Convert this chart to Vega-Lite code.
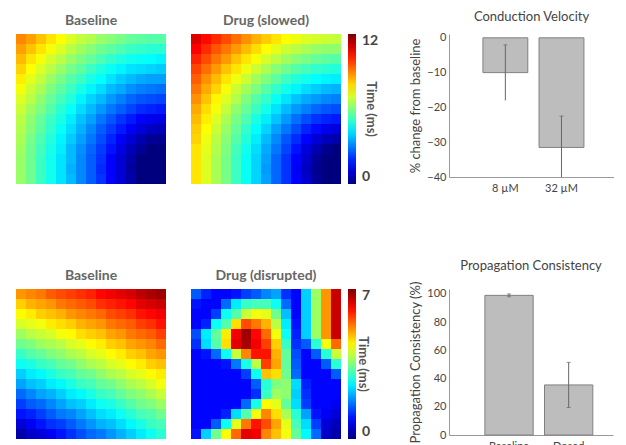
{
"$schema":"https://vega.github.io/schema/vega-lite/v6.json",
"padding":{"left":16,"top":10,"right":0,"bottom":0},
"background":"white",
"config":{"view":{"stroke":null},"font":"Lato","title":{"fontSize":14,"fontWeight":"bold","color":"#666666","offset":6,"font":"Lato"}},
"datasets":{
"a1":[
{"i":0,"j":0,"t":8.9},{"i":1,"j":0,"t":8.6},{"i":2,"j":0,"t":8.2},{"i":3,"j":0,"t":7.8},{"i":4,"j":0,"t":7.5},{"i":5,"j":0,"t":7.1},{"i":6,"j":0,"t":6.8},{"i":7,"j":0,"t":6.6},{"i":8,"j":0,"t":6.3},{"i":9,"j":0,"t":6.1},{"i":10,"j":0,"t":5.9},{"i":11,"j":0,"t":5.7},{"i":12,"j":0,"t":5.6},{"i":13,"j":0,"t":5.5},{"i":14,"j":0,"t":5.5},
{"i":0,"j":1,"t":8.6},{"i":1,"j":1,"t":8.2},{"i":2,"j":1,"t":7.8},{"i":3,"j":1,"t":7.4},{"i":4,"j":1,"t":7.1},{"i":5,"j":1,"t":6.7},{"i":6,"j":1,"t":6.4},{"i":7,"j":1,"t":6.1},{"i":8,"j":1,"t":5.8},{"i":9,"j":1,"t":5.6},{"i":10,"j":1,"t":5.4},{"i":11,"j":1,"t":5.2},{"i":12,"j":1,"t":5.1},{"i":13,"j":1,"t":5.0},{"i":14,"j":1,"t":5.0},
{"i":0,"j":2,"t":8.3},{"i":1,"j":2,"t":7.8},{"i":2,"j":2,"t":7.4},{"i":3,"j":2,"t":7.0},{"i":4,"j":2,"t":6.7},{"i":5,"j":2,"t":6.3},{"i":6,"j":2,"t":6.0},{"i":7,"j":2,"t":5.7},{"i":8,"j":2,"t":5.4},{"i":9,"j":2,"t":5.1},{"i":10,"j":2,"t":4.9},{"i":11,"j":2,"t":4.7},{"i":12,"j":2,"t":4.6},{"i":13,"j":2,"t":4.5},{"i":14,"j":2,"t":4.4},
{"i":0,"j":3,"t":8.0},{"i":1,"j":3,"t":7.5},{"i":2,"j":3,"t":7.1},{"i":3,"j":3,"t":6.7},{"i":4,"j":3,"t":6.3},{"i":5,"j":3,"t":5.9},{"i":6,"j":3,"t":5.6},{"i":7,"j":3,"t":5.2},{"i":8,"j":3,"t":4.9},{"i":9,"j":3,"t":4.6},{"i":10,"j":3,"t":4.4},{"i":11,"j":3,"t":4.2},{"i":12,"j":3,"t":4.1},{"i":13,"j":3,"t":4.0},{"i":14,"j":3,"t":3.9},
{"i":0,"j":4,"t":7.7},{"i":1,"j":4,"t":7.2},{"i":2,"j":4,"t":6.8},{"i":3,"j":4,"t":6.3},{"i":4,"j":4,"t":5.9},{"i":5,"j":4,"t":5.5},{"i":6,"j":4,"t":5.2},{"i":7,"j":4,"t":4.8},{"i":8,"j":4,"t":4.5},{"i":9,"j":4,"t":4.2},{"i":10,"j":4,"t":3.9},{"i":11,"j":4,"t":3.7},{"i":12,"j":4,"t":3.5},{"i":13,"j":4,"t":3.4},{"i":14,"j":4,"t":3.4},
{"i":0,"j":5,"t":7.4},{"i":1,"j":5,"t":6.9},{"i":2,"j":5,"t":6.5},{"i":3,"j":5,"t":6.0},{"i":4,"j":5,"t":5.6},{"i":5,"j":5,"t":5.2},{"i":6,"j":5,"t":4.8},{"i":7,"j":5,"t":4.4},{"i":8,"j":5,"t":4.1},{"i":9,"j":5,"t":3.7},{"i":10,"j":5,"t":3.5},{"i":11,"j":5,"t":3.2},{"i":12,"j":5,"t":3.0},{"i":13,"j":5,"t":2.9},{"i":14,"j":5,"t":2.8},
{"i":0,"j":6,"t":7.1},{"i":1,"j":6,"t":6.7},{"i":2,"j":6,"t":6.2},{"i":3,"j":6,"t":5.7},{"i":4,"j":6,"t":5.3},{"i":5,"j":6,"t":4.9},{"i":6,"j":6,"t":4.4},{"i":7,"j":6,"t":4.0},{"i":8,"j":6,"t":3.7},{"i":9,"j":6,"t":3.3},{"i":10,"j":6,"t":3.0},{"i":11,"j":6,"t":2.7},{"i":12,"j":6,"t":2.5},{"i":13,"j":6,"t":2.4},{"i":14,"j":6,"t":2.3},
{"i":0,"j":7,"t":6.9},{"i":1,"j":7,"t":6.4},{"i":2,"j":7,"t":6.0},{"i":3,"j":7,"t":5.5},{"i":4,"j":7,"t":5.0},{"i":5,"j":7,"t":4.6},{"i":6,"j":7,"t":4.1},{"i":7,"j":7,"t":3.7},{"i":8,"j":7,"t":3.3},{"i":9,"j":7,"t":2.9},{"i":10,"j":7,"t":2.6},{"i":11,"j":7,"t":2.3},{"i":12,"j":7,"t":2.0},{"i":13,"j":7,"t":1.9},{"i":14,"j":7,"t":1.8},
{"i":0,"j":8,"t":6.7},{"i":1,"j":8,"t":6.2},{"i":2,"j":8,"t":5.7},{"i":3,"j":8,"t":5.2},{"i":4,"j":8,"t":4.8},{"i":5,"j":8,"t":4.3},{"i":6,"j":8,"t":3.8},{"i":7,"j":8,"t":3.4},{"i":8,"j":8,"t":2.9},{"i":9,"j":8,"t":2.5},{"i":10,"j":8,"t":2.1},{"i":11,"j":8,"t":1.8},{"i":12,"j":8,"t":1.5},{"i":13,"j":8,"t":1.3},{"i":14,"j":8,"t":1.2},
{"i":0,"j":9,"t":6.6},{"i":1,"j":9,"t":6.1},{"i":2,"j":9,"t":5.6},{"i":3,"j":9,"t":5.1},{"i":4,"j":9,"t":4.6},{"i":5,"j":9,"t":4.1},{"i":6,"j":9,"t":3.6},{"i":7,"j":9,"t":3.1},{"i":8,"j":9,"t":2.6},{"i":9,"j":9,"t":2.2},{"i":10,"j":9,"t":1.8},{"i":11,"j":9,"t":1.4},{"i":12,"j":9,"t":1.1},{"i":13,"j":9,"t":0.8},{"i":14,"j":9,"t":0.7},
{"i":0,"j":10,"t":6.5},{"i":1,"j":10,"t":5.9},{"i":2,"j":10,"t":5.4},{"i":3,"j":10,"t":4.9},{"i":4,"j":10,"t":4.4},{"i":5,"j":10,"t":3.9},{"i":6,"j":10,"t":3.4},{"i":7,"j":10,"t":2.9},{"i":8,"j":10,"t":2.4},{"i":9,"j":10,"t":1.9},{"i":10,"j":10,"t":1.4},{"i":11,"j":10,"t":1.0},{"i":12,"j":10,"t":0.6},{"i":13,"j":10,"t":0.3},{"i":14,"j":10,"t":0.2},
{"i":0,"j":11,"t":6.4},{"i":1,"j":11,"t":5.8},{"i":2,"j":11,"t":5.3},{"i":3,"j":11,"t":4.8},{"i":4,"j":11,"t":4.3},{"i":5,"j":11,"t":3.7},{"i":6,"j":11,"t":3.2},{"i":7,"j":11,"t":2.7},{"i":8,"j":11,"t":2.2},{"i":9,"j":11,"t":1.7},{"i":10,"j":11,"t":1.2},{"i":11,"j":11,"t":0.7},{"i":12,"j":11,"t":0.3},{"i":13,"j":11,"t":0},{"i":14,"j":11,"t":0},
{"i":0,"j":12,"t":6.3},{"i":1,"j":12,"t":5.8},{"i":2,"j":12,"t":5.2},{"i":3,"j":12,"t":4.7},{"i":4,"j":12,"t":4.2},{"i":5,"j":12,"t":3.7},{"i":6,"j":12,"t":3.1},{"i":7,"j":12,"t":2.6},{"i":8,"j":12,"t":2.1},{"i":9,"j":12,"t":1.5},{"i":10,"j":12,"t":1.0},{"i":11,"j":12,"t":0.5},{"i":12,"j":12,"t":0},{"i":13,"j":12,"t":0},{"i":14,"j":12,"t":0},
{"i":0,"j":13,"t":6.3},{"i":1,"j":13,"t":5.8},{"i":2,"j":13,"t":5.2},{"i":3,"j":13,"t":4.7},{"i":4,"j":13,"t":4.2},{"i":5,"j":13,"t":3.6},{"i":6,"j":13,"t":3.1},{"i":7,"j":13,"t":2.6},{"i":8,"j":13,"t":2.0},{"i":9,"j":13,"t":1.5},{"i":10,"j":13,"t":1.0},{"i":11,"j":13,"t":0.4},{"i":12,"j":13,"t":0},{"i":13,"j":13,"t":0},{"i":14,"j":13,"t":0},
{"i":0,"j":14,"t":6.3},{"i":1,"j":14,"t":5.8},{"i":2,"j":14,"t":5.2},{"i":3,"j":14,"t":4.7},{"i":4,"j":14,"t":4.2},{"i":5,"j":14,"t":3.7},{"i":6,"j":14,"t":3.1},{"i":7,"j":14,"t":2.6},{"i":8,"j":14,"t":2.1},{"i":9,"j":14,"t":1.5},{"i":10,"j":14,"t":1.0},{"i":11,"j":14,"t":0.5},{"i":12,"j":14,"t":0},{"i":13,"j":14,"t":0},{"i":14,"j":14,"t":0}
],
"b1":[
{"i":0,"j":0,"t":10.9},{"i":1,"j":0,"t":10.4},{"i":2,"j":0,"t":10.0},{"i":3,"j":0,"t":9.6},{"i":4,"j":0,"t":9.2},{"i":5,"j":0,"t":8.8},{"i":6,"j":0,"t":8.4},{"i":7,"j":0,"t":8.1},{"i":8,"j":0,"t":7.8},{"i":9,"j":0,"t":7.5},{"i":10,"j":0,"t":7.3},{"i":11,"j":0,"t":7.1},{"i":12,"j":0,"t":7.0},{"i":13,"j":0,"t":6.9},{"i":14,"j":0,"t":6.8},
{"i":0,"j":1,"t":10.5},{"i":1,"j":1,"t":10.0},{"i":2,"j":1,"t":9.5},{"i":3,"j":1,"t":9.1},{"i":4,"j":1,"t":8.7},{"i":5,"j":1,"t":8.3},{"i":6,"j":1,"t":7.9},{"i":7,"j":1,"t":7.5},{"i":8,"j":1,"t":7.2},{"i":9,"j":1,"t":6.9},{"i":10,"j":1,"t":6.7},{"i":11,"j":1,"t":6.5},{"i":12,"j":1,"t":6.3},{"i":13,"j":1,"t":6.2},{"i":14,"j":1,"t":6.2},
{"i":0,"j":2,"t":10.1},{"i":1,"j":2,"t":9.6},{"i":2,"j":2,"t":9.1},{"i":3,"j":2,"t":8.7},{"i":4,"j":2,"t":8.2},{"i":5,"j":2,"t":7.8},{"i":6,"j":2,"t":7.4},{"i":7,"j":2,"t":7.0},{"i":8,"j":2,"t":6.7},{"i":9,"j":2,"t":6.4},{"i":10,"j":2,"t":6.1},{"i":11,"j":2,"t":5.9},{"i":12,"j":2,"t":5.7},{"i":13,"j":2,"t":5.6},{"i":14,"j":2,"t":5.5},
{"i":0,"j":3,"t":9.7},{"i":1,"j":3,"t":9.2},{"i":2,"j":3,"t":8.7},{"i":3,"j":3,"t":8.2},{"i":4,"j":3,"t":7.8},{"i":5,"j":3,"t":7.3},{"i":6,"j":3,"t":6.9},{"i":7,"j":3,"t":6.5},{"i":8,"j":3,"t":6.1},{"i":9,"j":3,"t":5.8},{"i":10,"j":3,"t":5.5},{"i":11,"j":3,"t":5.3},{"i":12,"j":3,"t":5.1},{"i":13,"j":3,"t":5.0},{"i":14,"j":3,"t":4.9},
{"i":0,"j":4,"t":9.4},{"i":1,"j":4,"t":8.8},{"i":2,"j":4,"t":8.3},{"i":3,"j":4,"t":7.8},{"i":4,"j":4,"t":7.3},{"i":5,"j":4,"t":6.9},{"i":6,"j":4,"t":6.4},{"i":7,"j":4,"t":6.0},{"i":8,"j":4,"t":5.6},{"i":9,"j":4,"t":5.2},{"i":10,"j":4,"t":4.9},{"i":11,"j":4,"t":4.7},{"i":12,"j":4,"t":4.5},{"i":13,"j":4,"t":4.4},{"i":14,"j":4,"t":4.3},
{"i":0,"j":5,"t":9.1},{"i":1,"j":5,"t":8.5},{"i":2,"j":5,"t":8.0},{"i":3,"j":5,"t":7.4},{"i":4,"j":5,"t":6.9},{"i":5,"j":5,"t":6.4},{"i":6,"j":5,"t":6.0},{"i":7,"j":5,"t":5.5},{"i":8,"j":5,"t":5.1},{"i":9,"j":5,"t":4.7},{"i":10,"j":5,"t":4.4},{"i":11,"j":5,"t":4.1},{"i":12,"j":5,"t":3.9},{"i":13,"j":5,"t":3.7},{"i":14,"j":5,"t":3.6},
{"i":0,"j":6,"t":8.8},{"i":1,"j":6,"t":8.2},{"i":2,"j":6,"t":7.6},{"i":3,"j":6,"t":7.1},{"i":4,"j":6,"t":6.6},{"i":5,"j":6,"t":6.0},{"i":6,"j":6,"t":5.5},{"i":7,"j":6,"t":5.1},{"i":8,"j":6,"t":4.6},{"i":9,"j":6,"t":4.2},{"i":10,"j":6,"t":3.8},{"i":11,"j":6,"t":3.5},{"i":12,"j":6,"t":3.3},{"i":13,"j":6,"t":3.1},{"i":14,"j":6,"t":3.0},
{"i":0,"j":7,"t":8.5},{"i":1,"j":7,"t":7.9},{"i":2,"j":7,"t":7.4},{"i":3,"j":7,"t":6.8},{"i":4,"j":7,"t":6.2},{"i":5,"j":7,"t":5.7},{"i":6,"j":7,"t":5.2},{"i":7,"j":7,"t":4.7},{"i":8,"j":7,"t":4.2},{"i":9,"j":7,"t":3.7},{"i":10,"j":7,"t":3.3},{"i":11,"j":7,"t":3.0},{"i":12,"j":7,"t":2.7},{"i":13,"j":7,"t":2.5},{"i":14,"j":7,"t":2.4},
{"i":0,"j":8,"t":8.3},{"i":1,"j":8,"t":7.7},{"i":2,"j":8,"t":7.1},{"i":3,"j":8,"t":6.5},{"i":4,"j":8,"t":5.9},{"i":5,"j":8,"t":5.4},{"i":6,"j":8,"t":4.8},{"i":7,"j":8,"t":4.3},{"i":8,"j":8,"t":3.8},{"i":9,"j":8,"t":3.3},{"i":10,"j":8,"t":2.8},{"i":11,"j":8,"t":2.4},{"i":12,"j":8,"t":2.1},{"i":13,"j":8,"t":1.9},{"i":14,"j":8,"t":1.8},
{"i":0,"j":9,"t":8.1},{"i":1,"j":9,"t":7.5},{"i":2,"j":9,"t":6.9},{"i":3,"j":9,"t":6.3},{"i":4,"j":9,"t":5.7},{"i":5,"j":9,"t":5.1},{"i":6,"j":9,"t":4.5},{"i":7,"j":9,"t":4.0},{"i":8,"j":9,"t":3.4},{"i":9,"j":9,"t":2.9},{"i":10,"j":9,"t":2.4},{"i":11,"j":9,"t":1.9},{"i":12,"j":9,"t":1.6},{"i":13,"j":9,"t":1.3},{"i":14,"j":9,"t":1.1},
{"i":0,"j":10,"t":8.0},{"i":1,"j":10,"t":7.3},{"i":2,"j":10,"t":6.7},{"i":3,"j":10,"t":6.1},{"i":4,"j":10,"t":5.5},{"i":5,"j":10,"t":4.9},{"i":6,"j":10,"t":4.3},{"i":7,"j":10,"t":3.7},{"i":8,"j":10,"t":3.1},{"i":9,"j":10,"t":2.5},{"i":10,"j":10,"t":2.0},{"i":11,"j":10,"t":1.5},{"i":12,"j":10,"t":1.0},{"i":13,"j":10,"t":0.7},{"i":14,"j":10,"t":0.5},
{"i":0,"j":11,"t":7.8},{"i":1,"j":11,"t":7.2},{"i":2,"j":11,"t":6.6},{"i":3,"j":11,"t":6.0},{"i":4,"j":11,"t":5.3},{"i":5,"j":11,"t":4.7},{"i":6,"j":11,"t":4.1},{"i":7,"j":11,"t":3.5},{"i":8,"j":11,"t":2.9},{"i":9,"j":11,"t":2.3},{"i":10,"j":11,"t":1.7},{"i":11,"j":11,"t":1.1},{"i":12,"j":11,"t":0.6},{"i":13,"j":11,"t":0.2},{"i":14,"j":11,"t":0},
{"i":0,"j":12,"t":7.8},{"i":1,"j":12,"t":7.1},{"i":2,"j":12,"t":6.5},{"i":3,"j":12,"t":5.9},{"i":4,"j":12,"t":5.2},{"i":5,"j":12,"t":4.6},{"i":6,"j":12,"t":4.0},{"i":7,"j":12,"t":3.4},{"i":8,"j":12,"t":2.7},{"i":9,"j":12,"t":2.1},{"i":10,"j":12,"t":1.5},{"i":11,"j":12,"t":0.9},{"i":12,"j":12,"t":0.3},{"i":13,"j":12,"t":0},{"i":14,"j":12,"t":0},
{"i":0,"j":13,"t":7.8},{"i":1,"j":13,"t":7.1},{"i":2,"j":13,"t":6.5},{"i":3,"j":13,"t":5.9},{"i":4,"j":13,"t":5.2},{"i":5,"j":13,"t":4.6},{"i":6,"j":13,"t":4.0},{"i":7,"j":13,"t":3.3},{"i":8,"j":13,"t":2.7},{"i":9,"j":13,"t":2.1},{"i":10,"j":13,"t":1.4},{"i":11,"j":13,"t":0.8},{"i":12,"j":13,"t":0.2},{"i":13,"j":13,"t":0},{"i":14,"j":13,"t":0},
{"i":0,"j":14,"t":7.8},{"i":1,"j":14,"t":7.1},{"i":2,"j":14,"t":6.5},{"i":3,"j":14,"t":5.9},{"i":4,"j":14,"t":5.2},{"i":5,"j":14,"t":4.6},{"i":6,"j":14,"t":4.0},{"i":7,"j":14,"t":3.4},{"i":8,"j":14,"t":2.7},{"i":9,"j":14,"t":2.1},{"i":10,"j":14,"t":1.5},{"i":11,"j":14,"t":0.9},{"i":12,"j":14,"t":0.3},{"i":13,"j":14,"t":0},{"i":14,"j":14,"t":0}
],
"a2":[
{"i":0,"j":0,"t":5.1},{"i":1,"j":0,"t":5.2},{"i":2,"j":0,"t":5.3},{"i":3,"j":0,"t":5.5},{"i":4,"j":0,"t":5.6},{"i":5,"j":0,"t":5.7},{"i":6,"j":0,"t":5.8},{"i":7,"j":0,"t":5.9},{"i":8,"j":0,"t":6.1},{"i":9,"j":0,"t":6.2},{"i":10,"j":0,"t":6.3},{"i":11,"j":0,"t":6.4},{"i":12,"j":0,"t":6.6},{"i":13,"j":0,"t":6.7},{"i":14,"j":0,"t":6.8},
{"i":0,"j":1,"t":4.7},{"i":1,"j":1,"t":4.9},{"i":2,"j":1,"t":5.0},{"i":3,"j":1,"t":5.1},{"i":4,"j":1,"t":5.3},{"i":5,"j":1,"t":5.4},{"i":6,"j":1,"t":5.5},{"i":7,"j":1,"t":5.6},{"i":8,"j":1,"t":5.8},{"i":9,"j":1,"t":5.9},{"i":10,"j":1,"t":6.0},{"i":11,"j":1,"t":6.1},{"i":12,"j":1,"t":6.3},{"i":13,"j":1,"t":6.4},{"i":14,"j":1,"t":6.5},
{"i":0,"j":2,"t":4.4},{"i":1,"j":2,"t":4.5},{"i":2,"j":2,"t":4.7},{"i":3,"j":2,"t":4.8},{"i":4,"j":2,"t":4.9},{"i":5,"j":2,"t":5.1},{"i":6,"j":2,"t":5.2},{"i":7,"j":2,"t":5.3},{"i":8,"j":2,"t":5.4},{"i":9,"j":2,"t":5.6},{"i":10,"j":2,"t":5.7},{"i":11,"j":2,"t":5.8},{"i":12,"j":2,"t":6.0},{"i":13,"j":2,"t":6.1},{"i":14,"j":2,"t":6.2},
{"i":0,"j":3,"t":4.1},{"i":1,"j":3,"t":4.2},{"i":2,"j":3,"t":4.3},{"i":3,"j":3,"t":4.5},{"i":4,"j":3,"t":4.6},{"i":5,"j":3,"t":4.7},{"i":6,"j":3,"t":4.9},{"i":7,"j":3,"t":5.0},{"i":8,"j":3,"t":5.1},{"i":9,"j":3,"t":5.3},{"i":10,"j":3,"t":5.4},{"i":11,"j":3,"t":5.5},{"i":12,"j":3,"t":5.7},{"i":13,"j":3,"t":5.8},{"i":14,"j":3,"t":6.0},
{"i":0,"j":4,"t":3.7},{"i":1,"j":4,"t":3.9},{"i":2,"j":4,"t":4.0},{"i":3,"j":4,"t":4.1},{"i":4,"j":4,"t":4.3},{"i":5,"j":4,"t":4.4},{"i":6,"j":4,"t":4.6},{"i":7,"j":4,"t":4.7},{"i":8,"j":4,"t":4.8},{"i":9,"j":4,"t":5.0},{"i":10,"j":4,"t":5.1},{"i":11,"j":4,"t":5.3},{"i":12,"j":4,"t":5.4},{"i":13,"j":4,"t":5.5},{"i":14,"j":4,"t":5.7},
{"i":0,"j":5,"t":3.4},{"i":1,"j":5,"t":3.5},{"i":2,"j":5,"t":3.7},{"i":3,"j":5,"t":3.8},{"i":4,"j":5,"t":3.9},{"i":5,"j":5,"t":4.1},{"i":6,"j":5,"t":4.2},{"i":7,"j":5,"t":4.4},{"i":8,"j":5,"t":4.5},{"i":9,"j":5,"t":4.7},{"i":10,"j":5,"t":4.8},{"i":11,"j":5,"t":5.0},{"i":12,"j":5,"t":5.1},{"i":13,"j":5,"t":5.2},{"i":14,"j":5,"t":5.4},
{"i":0,"j":6,"t":3.0},{"i":1,"j":6,"t":3.2},{"i":2,"j":6,"t":3.3},{"i":3,"j":6,"t":3.5},{"i":4,"j":6,"t":3.6},{"i":5,"j":6,"t":3.8},{"i":6,"j":6,"t":3.9},{"i":7,"j":6,"t":4.1},{"i":8,"j":6,"t":4.2},{"i":9,"j":6,"t":4.4},{"i":10,"j":6,"t":4.5},{"i":11,"j":6,"t":4.7},{"i":12,"j":6,"t":4.8},{"i":13,"j":6,"t":5.0},{"i":14,"j":6,"t":5.1},
{"i":0,"j":7,"t":2.7},{"i":1,"j":7,"t":2.8},{"i":2,"j":7,"t":3.0},{"i":3,"j":7,"t":3.1},{"i":4,"j":7,"t":3.3},{"i":5,"j":7,"t":3.4},{"i":6,"j":7,"t":3.6},{"i":7,"j":7,"t":3.8},{"i":8,"j":7,"t":3.9},{"i":9,"j":7,"t":4.1},{"i":10,"j":7,"t":4.2},{"i":11,"j":7,"t":4.4},{"i":12,"j":7,"t":4.5},{"i":13,"j":7,"t":4.7},{"i":14,"j":7,"t":4.8},
{"i":0,"j":8,"t":2.3},{"i":1,"j":8,"t":2.5},{"i":2,"j":8,"t":2.6},{"i":3,"j":8,"t":2.8},{"i":4,"j":8,"t":3.0},{"i":5,"j":8,"t":3.1},{"i":6,"j":8,"t":3.3},{"i":7,"j":8,"t":3.4},{"i":8,"j":8,"t":3.6},{"i":9,"j":8,"t":3.8},{"i":10,"j":8,"t":3.9},{"i":11,"j":8,"t":4.1},{"i":12,"j":8,"t":4.2},{"i":13,"j":8,"t":4.4},{"i":14,"j":8,"t":4.5},
{"i":0,"j":9,"t":2.0},{"i":1,"j":9,"t":2.2},{"i":2,"j":9,"t":2.3},{"i":3,"j":9,"t":2.5},{"i":4,"j":9,"t":2.6},{"i":5,"j":9,"t":2.8},{"i":6,"j":9,"t":3.0},{"i":7,"j":9,"t":3.1},{"i":8,"j":9,"t":3.3},{"i":9,"j":9,"t":3.4},{"i":10,"j":9,"t":3.6},{"i":11,"j":9,"t":3.8},{"i":12,"j":9,"t":3.9},{"i":13,"j":9,"t":4.1},{"i":14,"j":9,"t":4.3},
{"i":0,"j":10,"t":1.6},{"i":1,"j":10,"t":1.8},{"i":2,"j":10,"t":2.0},{"i":3,"j":10,"t":2.1},{"i":4,"j":10,"t":2.3},{"i":5,"j":10,"t":2.5},{"i":6,"j":10,"t":2.6},{"i":7,"j":10,"t":2.8},{"i":8,"j":10,"t":3.0},{"i":9,"j":10,"t":3.1},{"i":10,"j":10,"t":3.3},{"i":11,"j":10,"t":3.5},{"i":12,"j":10,"t":3.6},{"i":13,"j":10,"t":3.8},{"i":14,"j":10,"t":4.0},
{"i":0,"j":11,"t":1.3},{"i":1,"j":11,"t":1.5},{"i":2,"j":11,"t":1.6},{"i":3,"j":11,"t":1.8},{"i":4,"j":11,"t":2.0},{"i":5,"j":11,"t":2.2},{"i":6,"j":11,"t":2.3},{"i":7,"j":11,"t":2.5},{"i":8,"j":11,"t":2.7},{"i":9,"j":11,"t":2.8},{"i":10,"j":11,"t":3.0},{"i":11,"j":11,"t":3.2},{"i":12,"j":11,"t":3.4},{"i":13,"j":11,"t":3.5},{"i":14,"j":11,"t":3.7},
{"i":0,"j":12,"t":1.0},{"i":1,"j":12,"t":1.1},{"i":2,"j":12,"t":1.3},{"i":3,"j":12,"t":1.5},{"i":4,"j":12,"t":1.7},{"i":5,"j":12,"t":1.8},{"i":6,"j":12,"t":2.0},{"i":7,"j":12,"t":2.2},{"i":8,"j":12,"t":2.4},{"i":9,"j":12,"t":2.5},{"i":10,"j":12,"t":2.7},{"i":11,"j":12,"t":2.9},{"i":12,"j":12,"t":3.1},{"i":13,"j":12,"t":3.2},{"i":14,"j":12,"t":3.4},
{"i":0,"j":13,"t":0.6},{"i":1,"j":13,"t":0.8},{"i":2,"j":13,"t":1.0},{"i":3,"j":13,"t":1.2},{"i":4,"j":13,"t":1.3},{"i":5,"j":13,"t":1.5},{"i":6,"j":13,"t":1.7},{"i":7,"j":13,"t":1.9},{"i":8,"j":13,"t":2.1},{"i":9,"j":13,"t":2.2},{"i":10,"j":13,"t":2.4},{"i":11,"j":13,"t":2.6},{"i":12,"j":13,"t":2.8},{"i":13,"j":13,"t":3.0},{"i":14,"j":13,"t":3.1},
{"i":0,"j":14,"t":0.3},{"i":1,"j":14,"t":0.5},{"i":2,"j":14,"t":0.6},{"i":3,"j":14,"t":0.8},{"i":4,"j":14,"t":1.0},{"i":5,"j":14,"t":1.2},{"i":6,"j":14,"t":1.4},{"i":7,"j":14,"t":1.6},{"i":8,"j":14,"t":1.7},{"i":9,"j":14,"t":1.9},{"i":10,"j":14,"t":2.1},{"i":11,"j":14,"t":2.3},{"i":12,"j":14,"t":2.5},{"i":13,"j":14,"t":2.7},{"i":14,"j":14,"t":2.9}
],
"b2":[
{"i":0,"j":0,"t":1.5},{"i":1,"j":0,"t":1.1},{"i":2,"j":0,"t":0.9},{"i":3,"j":0,"t":0.9},{"i":4,"j":0,"t":1.0},{"i":5,"j":0,"t":1.3},{"i":6,"j":0,"t":1.5},{"i":7,"j":0,"t":1.8},{"i":8,"j":0,"t":2.0},{"i":9,"j":0,"t":1.2},{"i":10,"j":0,"t":0.9},{"i":11,"j":0,"t":2.3},{"i":12,"j":0,"t":3.7},{"i":13,"j":0,"t":5.1},{"i":14,"j":0,"t":6.5},
{"i":0,"j":1,"t":1.0},{"i":1,"j":1,"t":0.9},{"i":2,"j":1,"t":0.9},{"i":3,"j":1,"t":1.6},{"i":4,"j":1,"t":2.5},{"i":5,"j":1,"t":3.0},{"i":6,"j":1,"t":3.1},{"i":7,"j":1,"t":3.1},{"i":8,"j":1,"t":2.7},{"i":9,"j":1,"t":1.6},{"i":10,"j":1,"t":0.9},{"i":11,"j":1,"t":2.3},{"i":12,"j":1,"t":3.7},{"i":13,"j":1,"t":5.1},{"i":14,"j":1,"t":6.5},
{"i":0,"j":2,"t":0.9},{"i":1,"j":2,"t":0.9},{"i":2,"j":2,"t":1.3},{"i":3,"j":2,"t":2.7},{"i":4,"j":2,"t":3.2},{"i":5,"j":2,"t":4.0},{"i":6,"j":2,"t":4.3},{"i":7,"j":2,"t":4.2},{"i":8,"j":2,"t":3.4},{"i":9,"j":2,"t":2.2},{"i":10,"j":2,"t":0.9},{"i":11,"j":2,"t":2.3},{"i":12,"j":2,"t":3.7},{"i":13,"j":2,"t":5.1},{"i":14,"j":2,"t":6.5},
{"i":0,"j":3,"t":0.9},{"i":1,"j":3,"t":1.1},{"i":2,"j":3,"t":2.7},{"i":3,"j":3,"t":3.2},{"i":4,"j":3,"t":4.6},{"i":5,"j":3,"t":5.6},{"i":6,"j":3,"t":5.3},{"i":7,"j":3,"t":4.9},{"i":8,"j":3,"t":3.9},{"i":9,"j":3,"t":2.5},{"i":10,"j":3,"t":1.0},{"i":11,"j":3,"t":2.3},{"i":12,"j":3,"t":3.7},{"i":13,"j":3,"t":5.1},{"i":14,"j":3,"t":6.5},
{"i":0,"j":4,"t":1.4},{"i":1,"j":4,"t":2.5},{"i":2,"j":4,"t":3.3},{"i":3,"j":4,"t":4.5},{"i":4,"j":4,"t":6.2},{"i":5,"j":4,"t":6.8},{"i":6,"j":4,"t":6.1},{"i":7,"j":4,"t":5.4},{"i":8,"j":4,"t":4.3},{"i":9,"j":4,"t":2.7},{"i":10,"j":4,"t":1.1},{"i":11,"j":4,"t":2.3},{"i":12,"j":4,"t":3.7},{"i":13,"j":4,"t":5.1},{"i":14,"j":4,"t":6.5},
{"i":0,"j":5,"t":1.2},{"i":1,"j":5,"t":2.4},{"i":2,"j":5,"t":3.2},{"i":3,"j":5,"t":4.6},{"i":4,"j":5,"t":6.3},{"i":5,"j":5,"t":6.7},{"i":6,"j":5,"t":6.2},{"i":7,"j":5,"t":5.7},{"i":8,"j":5,"t":4.7},{"i":9,"j":5,"t":3.0},{"i":10,"j":5,"t":1.2},{"i":11,"j":5,"t":1.5},{"i":12,"j":5,"t":2.9},{"i":13,"j":5,"t":4.3},{"i":14,"j":5,"t":5.4},
{"i":0,"j":6,"t":0.9},{"i":1,"j":6,"t":1.0},{"i":2,"j":6,"t":1.6},{"i":3,"j":6,"t":2.7},{"i":4,"j":6,"t":4.0},{"i":5,"j":6,"t":5.2},{"i":6,"j":6,"t":6.0},{"i":7,"j":6,"t":6.0},{"i":8,"j":6,"t":4.9},{"i":9,"j":6,"t":3.3},{"i":10,"j":6,"t":1.4},{"i":11,"j":6,"t":0.9},{"i":12,"j":6,"t":1.5},{"i":13,"j":6,"t":2.9},{"i":14,"j":6,"t":4.0},
{"i":0,"j":7,"t":0.9},{"i":1,"j":7,"t":0.9},{"i":2,"j":7,"t":0.9},{"i":3,"j":7,"t":1.0},{"i":4,"j":7,"t":1.7},{"i":5,"j":7,"t":2.8},{"i":6,"j":7,"t":3.9},{"i":7,"j":7,"t":5.7},{"i":8,"j":7,"t":5.0},{"i":9,"j":7,"t":3.3},{"i":10,"j":7,"t":1.5},{"i":11,"j":7,"t":0.9},{"i":12,"j":7,"t":0.9},{"i":13,"j":7,"t":1.5},{"i":14,"j":7,"t":2.9},
{"i":0,"j":8,"t":0.9},{"i":1,"j":8,"t":0.9},{"i":2,"j":8,"t":0.9},{"i":3,"j":8,"t":0.9},{"i":4,"j":8,"t":0.9},{"i":5,"j":8,"t":1.3},{"i":6,"j":8,"t":2.7},{"i":7,"j":8,"t":4.8},{"i":8,"j":8,"t":4.6},{"i":9,"j":8,"t":3.4},{"i":10,"j":8,"t":1.6},{"i":11,"j":8,"t":0.9},{"i":12,"j":8,"t":0.9},{"i":13,"j":8,"t":0.9},{"i":14,"j":8,"t":1.5},
{"i":0,"j":9,"t":0.9},{"i":1,"j":9,"t":0.9},{"i":2,"j":9,"t":0.9},{"i":3,"j":9,"t":0.9},{"i":4,"j":9,"t":0.9},{"i":5,"j":9,"t":0.9},{"i":6,"j":9,"t":1.5},{"i":7,"j":9,"t":2.9},{"i":8,"j":9,"t":3.5},{"i":9,"j":9,"t":3.6},{"i":10,"j":9,"t":2.4},{"i":11,"j":9,"t":1.1},{"i":12,"j":9,"t":0.9},{"i":13,"j":9,"t":0.9},{"i":14,"j":9,"t":0.9},
{"i":0,"j":10,"t":0.9},{"i":1,"j":10,"t":0.9},{"i":2,"j":10,"t":0.9},{"i":3,"j":10,"t":0.9},{"i":4,"j":10,"t":0.9},{"i":5,"j":10,"t":0.9},{"i":6,"j":10,"t":1.2},{"i":7,"j":10,"t":3.0},{"i":8,"j":10,"t":3.7},{"i":9,"j":10,"t":3.6},{"i":10,"j":10,"t":2.3},{"i":11,"j":10,"t":1.2},{"i":12,"j":10,"t":0.9},{"i":13,"j":10,"t":0.9},{"i":14,"j":10,"t":0.9},
{"i":0,"j":11,"t":0.9},{"i":1,"j":11,"t":0.9},{"i":2,"j":11,"t":0.9},{"i":3,"j":11,"t":0.9},{"i":4,"j":11,"t":0.9},{"i":5,"j":11,"t":1.6},{"i":6,"j":11,"t":2.8},{"i":7,"j":11,"t":4.4},{"i":8,"j":11,"t":4.2},{"i":9,"j":11,"t":3.3},{"i":10,"j":11,"t":2.4},{"i":11,"j":11,"t":1.3},{"i":12,"j":11,"t":0.9},{"i":13,"j":11,"t":0.9},{"i":14,"j":11,"t":0.8},
{"i":0,"j":12,"t":0.9},{"i":1,"j":12,"t":0.9},{"i":2,"j":12,"t":0.9},{"i":3,"j":12,"t":1.1},{"i":4,"j":12,"t":2.4},{"i":5,"j":12,"t":3.2},{"i":6,"j":12,"t":4.3},{"i":7,"j":12,"t":5.2},{"i":8,"j":12,"t":4.6},{"i":9,"j":12,"t":3.8},{"i":10,"j":12,"t":2.9},{"i":11,"j":12,"t":2.0},{"i":12,"j":12,"t":1.0},{"i":13,"j":12,"t":0.8},{"i":14,"j":12,"t":0.6},
{"i":0,"j":13,"t":0.9},{"i":1,"j":13,"t":0.9},{"i":2,"j":13,"t":1.5},{"i":3,"j":13,"t":2.7},{"i":4,"j":13,"t":4.2},{"i":5,"j":13,"t":5.3},{"i":6,"j":13,"t":6.0},{"i":7,"j":13,"t":5.6},{"i":8,"j":13,"t":5.0},{"i":9,"j":13,"t":4.2},{"i":10,"j":13,"t":3.1},{"i":11,"j":13,"t":2.4},{"i":12,"j":13,"t":1.3},{"i":13,"j":13,"t":0.6},{"i":14,"j":13,"t":0.4},
{"i":0,"j":14,"t":1.0},{"i":1,"j":14,"t":2.3},{"i":2,"j":14,"t":3.4},{"i":3,"j":14,"t":4.4},{"i":4,"j":14,"t":5.4},{"i":5,"j":14,"t":6.3},{"i":6,"j":14,"t":6.2},{"i":7,"j":14,"t":5.2},{"i":8,"j":14,"t":4.8},{"i":9,"j":14,"t":4.3},{"i":10,"j":14,"t":3.3},{"i":11,"j":14,"t":2.6},{"i":12,"j":14,"t":1.6},{"i":13,"j":14,"t":0.5},{"i":14,"j":14,"t":0.3}
]
},
"spacing":66,
"resolve":{"scale":{"color":"independent","x":"independent","y":"independent"},"legend":{"color":"independent"}},
"vconcat":[
{"spacing":30,
"resolve":{"scale":{"color":"independent","x":"independent","y":"independent"},"legend":{"color":"independent"}},
"hconcat":[
{"spacing":25,
"resolve":{"scale":{"color":"independent","x":"independent","y":"independent"},"legend":{"color":"independent"}},
"hconcat":[
{"width":150,"height":150,"data":{"name":"a1"},"title":{"text":"Baseline"},"mark":{"type":"rect"},
"encoding":{"x":{"field":"i","type":"ordinal","axis":null},"y":{"field":"j","type":"ordinal","axis":null},
"color":{"field":"t","type":"quantitative","scale":{"domain":[0,12],"interpolate":"rgb","range":["#00007f","#0000ff","#007fff","#00ffff","#7fff7f","#ffff00","#ff7f00","#ff0000","#7f0000"]},"legend":null}}},
{"width":150,"height":150,"data":{"name":"b1"},"title":{"text":"Drug (slowed)"},"mark":{"type":"rect"},
"encoding":{"x":{"field":"i","type":"ordinal","axis":null},"y":{"field":"j","type":"ordinal","axis":null},
"color":{"field":"t","type":"quantitative","scale":{"domain":[0,12],"interpolate":"rgb","range":["#00007f","#0000ff","#007fff","#00ffff","#7fff7f","#ffff00","#ff7f00","#ff0000","#7f0000"]},
"legend":{"title":"Time (ms)","values":[0,12],"gradientLength":150,"gradientThickness":8,"offset":7,"padding":0,"titleOrient":"right","titleAngle":90,"titleAnchor":"middle","titlePadding":-14,"titleFontSize":13,"titleFontWeight":"bold","titleColor":"#555555","labelFontSize":14,"labelFontWeight":"bold","labelColor":"#444444","labelOffset":6,"gradientStrokeWidth":0}}}}
]},
{"width":165,"height":143,
"title":{"text":"Conduction Velocity","fontWeight":"normal","color":"#444444","fontSize":13,"offset":8},
"data":{"values":[{"cond":"8 µM","v":-10,"lo":-18,"hi":-2},{"cond":"32 µM","v":-31.5,"lo":-40.5,"hi":-22.5}]},
"encoding":{"x":{"field":"cond","type":"nominal","sort":null,"scale":{"paddingInner":0.2,"paddingOuter":0.57,"align":0.53},"axis":{"title":null,"labelAngle":0,"ticks":false,"labelFontSize":11,"labelColor":"#444444","labelPadding":5,"domainColor":"#999999"}}},
"layer":[
{"mark":{"type":"bar","fill":"#bdbdbd","stroke":"#808080","strokeWidth":1},
"encoding":{"y":{"field":"v","type":"quantitative","scale":{"domain":[-40,1.1],"nice":false},"axis":{"title":"% change from baseline","values":[-40,-30,-20,-10,0],"labelOverlap":false,"grid":false,"ticks":false,"labelFontSize":11,"labelColor":"#444444","labelPadding":3,"domainColor":"#999999","titleFontSize":13,"titleFontWeight":"normal","titleColor":"#444444","titlePadding":4}}}},
{"mark":{"type":"rule","color":"#666666","strokeWidth":1,"clip":true},
"encoding":{"y":{"field":"lo","type":"quantitative","scale":{"domain":[-40,1.1],"nice":false},"axis":{"title":"% change from baseline","values":[-40,-30,-20,-10,0],"labelOverlap":false,"grid":false,"ticks":false,"labelFontSize":11,"labelColor":"#444444","labelPadding":3,"domainColor":"#999999","titleFontSize":13,"titleFontWeight":"normal","titleColor":"#444444","titlePadding":4}},"y2":{"field":"hi"}}},
{"mark":{"type":"tick","color":"#666666","size":4,"thickness":1,"clip":true},
"encoding":{"y":{"field":"hi","type":"quantitative","scale":{"domain":[-40,1.1],"nice":false},"axis":{"title":"% change from baseline","values":[-40,-30,-20,-10,0],"labelOverlap":false,"grid":false,"ticks":false,"labelFontSize":11,"labelColor":"#444444","labelPadding":3,"domainColor":"#999999","titleFontSize":13,"titleFontWeight":"normal","titleColor":"#444444","titlePadding":4}}}},
{"mark":{"type":"rule","color":"#999999","strokeWidth":1},"encoding":{"y":{"datum":0,"type":"quantitative","scale":{"domain":[-40,1.1],"nice":false},"axis":{"title":"% change from baseline","values":[-40,-30,-20,-10,0],"labelOverlap":false,"grid":false,"ticks":false,"labelFontSize":11,"labelColor":"#444444","labelPadding":3,"domainColor":"#999999","titleFontSize":13,"titleFontWeight":"normal","titleColor":"#444444","titlePadding":4}}}}
]}
]},
{"spacing":38,
"resolve":{"scale":{"color":"independent","x":"independent","y":"independent"},"legend":{"color":"independent"}},
"hconcat":[
{"spacing":25,
"resolve":{"scale":{"color":"independent","x":"independent","y":"independent"},"legend":{"color":"independent"}},
"hconcat":[
{"width":150,"height":150,"data":{"name":"a2"},"title":{"text":"Baseline"},"mark":{"type":"rect"},
"encoding":{"x":{"field":"i","type":"ordinal","axis":null},"y":{"field":"j","type":"ordinal","axis":null},
"color":{"field":"t","type":"quantitative","scale":{"domain":[0,7],"interpolate":"rgb","range":["#00007f","#0000ff","#007fff","#00ffff","#7fff7f","#ffff00","#ff7f00","#ff0000","#7f0000"]},"legend":null}}},
{"width":150,"height":150,"data":{"name":"b2"},"title":{"text":"Drug (disrupted)"},"mark":{"type":"rect"},
"encoding":{"x":{"field":"i","type":"ordinal","axis":null},"y":{"field":"j","type":"ordinal","axis":null},
"color":{"field":"t","type":"quantitative","scale":{"domain":[0,7],"interpolate":"rgb","range":["#00007f","#0000ff","#007fff","#00ffff","#7fff7f","#ffff00","#ff7f00","#ff0000","#7f0000"]},
"legend":{"title":"Time (ms)","values":[0,7],"gradientLength":150,"gradientThickness":8,"offset":7,"padding":0,"titleOrient":"right","titleAngle":90,"titleAnchor":"middle","titlePadding":-14,"titleFontSize":13,"titleFontWeight":"bold","titleColor":"#555555","labelFontSize":14,"labelFontWeight":"bold","labelColor":"#444444","labelOffset":6,"gradientStrokeWidth":0}}}}
]},
{"width":164,"height":146,
"title":{"text":"Propagation Consistency","fontWeight":"normal","color":"#444444","fontSize":13,"offset":8},
"data":{"values":[{"cond":"Baseline","v":99,"lo":98,"hi":100},{"cond":"Dosed","v":35.5,"lo":19.5,"hi":51.5}]},
"encoding":{"x":{"field":"cond","type":"nominal","sort":null,"scale":{"paddingInner":0.19,"paddingOuter":0.47,"align":0.64},"axis":{"title":null,"labelAngle":0,"ticks":false,"labelFontSize":11,"labelColor":"#444444","labelPadding":5,"domainColor":"#999999"}}},
"layer":[
{"mark":{"type":"bar","fill":"#bdbdbd","stroke":"#808080","strokeWidth":1},
"encoding":{"y":{"field":"v","type":"quantitative","scale":{"domain":[0,103.5],"nice":false},"axis":{"title":"Propagation Consistency (%)","values":[0,20,40,60,80,100],"labelOverlap":false,"grid":false,"ticks":false,"labelFontSize":11,"labelColor":"#444444","labelPadding":3,"domainColor":"#999999","titleFontSize":13,"titleFontWeight":"normal","titleColor":"#444444","titlePadding":4}}}},
{"mark":{"type":"rule","color":"#666666","strokeWidth":1,"clip":true},
"encoding":{"y":{"field":"lo","type":"quantitative","scale":{"domain":[0,103.5],"nice":false},"axis":{"title":"Propagation Consistency (%)","values":[0,20,40,60,80,100],"labelOverlap":false,"grid":false,"ticks":false,"labelFontSize":11,"labelColor":"#444444","labelPadding":3,"domainColor":"#999999","titleFontSize":13,"titleFontWeight":"normal","titleColor":"#444444","titlePadding":4}},"y2":{"field":"hi"}}},
{"mark":{"type":"tick","color":"#666666","size":4,"thickness":1,"clip":true},
"encoding":{"y":{"field":"hi","type":"quantitative","scale":{"domain":[0,103.5],"nice":false},"axis":{"title":"Propagation Consistency (%)","values":[0,20,40,60,80,100],"labelOverlap":false,"grid":false,"ticks":false,"labelFontSize":11,"labelColor":"#444444","labelPadding":3,"domainColor":"#999999","titleFontSize":13,"titleFontWeight":"normal","titleColor":"#444444","titlePadding":4}}}},
{"mark":{"type":"tick","color":"#666666","size":4,"thickness":1,"clip":true},
"encoding":{"y":{"field":"lo","type":"quantitative","scale":{"domain":[0,103.5],"nice":false},"axis":{"title":"Propagation Consistency (%)","values":[0,20,40,60,80,100],"labelOverlap":false,"grid":false,"ticks":false,"labelFontSize":11,"labelColor":"#444444","labelPadding":3,"domainColor":"#999999","titleFontSize":13,"titleFontWeight":"normal","titleColor":"#444444","titlePadding":4}}}}
]}
]}
]
}
